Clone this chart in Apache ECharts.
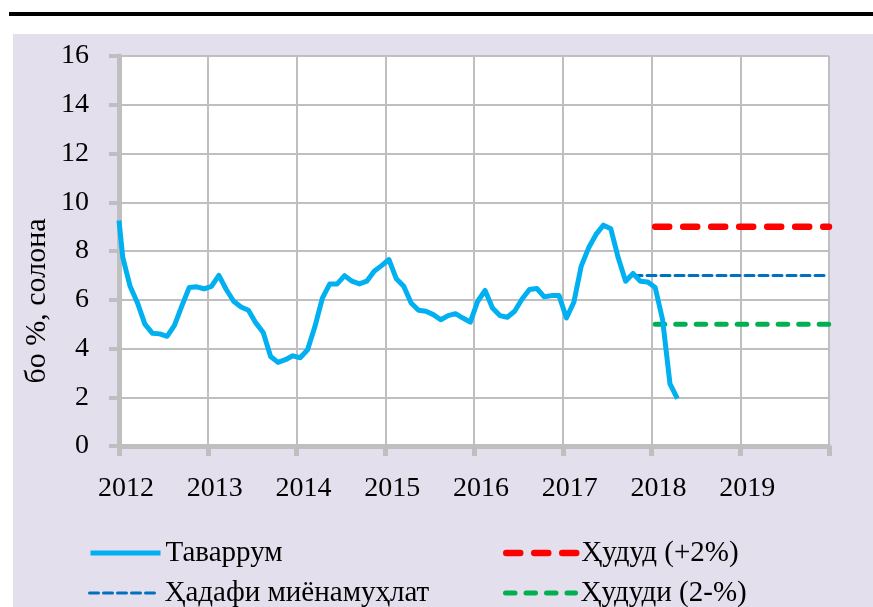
<!DOCTYPE html>
<html>
<head>
<meta charset="utf-8">
<script src="https://cdn.jsdelivr.net/npm/echarts@6.0.0/dist/echarts.min.js"></script>
<style>
html, body { margin: 0; padding: 0; background: #fff; }
#chart { width: 873px; height: 607px; }
</style>
</head>
<body>
<div id="chart"></div>
<script>
// monthly inflation, % y/y, Jan 2012 .. Apr 2018
const firstMonth = [2012, 1];
// the line enters the plot at this value on the left edge (start of 2012)
const edgeValue = 9.25;
const inflation = [
	7.75, 6.55, 5.87, 5.0, 4.63, 4.6, 4.5, 4.95, 5.75, 6.5, 6.53, 6.45,
	6.55, 7.0, 6.42, 5.94, 5.7, 5.57, 5.05, 4.66, 3.67, 3.43, 3.54, 3.7,
	3.62, 3.95, 4.91, 6.07, 6.65, 6.65, 6.99, 6.76, 6.65, 6.76, 7.17, 7.4,
	7.65, 6.86, 6.55, 5.87, 5.57, 5.53, 5.39, 5.18, 5.35, 5.43, 5.25, 5.08,
	5.94, 6.38, 5.66, 5.35, 5.28, 5.53, 6.03, 6.42, 6.46, 6.12, 6.17, 6.17,
	5.25, 5.9, 7.38, 8.13, 8.68, 9.06, 8.91, 7.72, 6.76, 7.08, 6.76, 6.73,
	6.5, 5.18, 2.55, 1.94
];
const yearTicks = [2012, 2013, 2014, 2015, 2016, 2017, 2018, 2019, 2020];
const targetStart = [2017, 10];
const bandStart = [2018, 1];
const targetValue = 7;
const upperBand = 9;
const lowerBand = 5;
const names = ['Таваррум', 'Ҳадафи миёнамуҳлат', 'Ҳудуд (+2%)', 'Ҳудуди (2-%)'];

const FONT = "'Liberation Serif', 'Times New Roman', serif";
const GRID_GREY = '#bfbfbf';

// points sit in the middle of their month
function monthX(year, month) {
	return year + (month - 0.5) / 12;
}

let axisStart = yearTicks[0];
let axisEnd = yearTicks[yearTicks.length - 1];
let inflationData = [[axisStart, edgeValue]].concat(inflation.map((v, i) => {
	let m = firstMonth[1] - 1 + i;
	return [monthX(firstMonth[0] + Math.floor(m / 12), (m % 12) + 1), v];
}));
let targetData = [[monthX(targetStart[0], targetStart[1]), targetValue], [axisEnd, targetValue]];
let upperData = [[monthX(bandStart[0], bandStart[1]), upperBand], [axisEnd, upperBand]];
let lowerData = [[monthX(bandStart[0], bandStart[1]), lowerBand], [axisEnd, lowerBand]];

let chart = echarts.init(document.getElementById('chart'));

// one legend per entry so the 2x2 layout is exact; the line sample keeps the series width/dash
function legendAt(name, left, top) {
	return {
		data: [{ name: name, icon: 'inherit' }],
		orient: 'horizontal',
		left: left,
		top: top,
		padding: 0,
		itemWidth: 70,
		itemHeight: 14,
		itemStyle: { opacity: 0 },
		lineStyle: { width: 'inherit', type: 'inherit', cap: 'inherit' },
		textStyle: {
			fontFamily: FONT,
			fontSize: 29,
			lineHeight: 30,
			color: '#000'
		}
	};
}

let option = {
	animation: false,
	backgroundColor: '#fff',
	graphic: [
		{ type: 'rect', shape: { x: 9, y: 12, width: 864, height: 4 }, style: { fill: '#000' }, z: -10 },
		{ type: 'rect', shape: { x: 13, y: 34, width: 860, height: 573 }, style: { fill: '#e4dfec' }, z: -10 },
		{
			type: 'text',
			x: 37,
			y: 301,
			rotation: Math.PI / 2,
			style: {
				text: 'бо %, солона',
				fontFamily: FONT,
				fontSize: 30,
				fill: '#000',
				align: 'center',
				verticalAlign: 'middle'
			}
		}
	],
	grid: {
		left: 119,
		right: 44,
		top: 56,
		bottom: 161,
		show: true,
		backgroundColor: '#fff',
		borderWidth: 0
	},
	legend: [
		legendAt(names[0], 88, 538),
		legendAt(names[1], 88, 578),
		legendAt(names[2], 503, 538),
		legendAt(names[3], 503, 578)
	],
	xAxis: {
		type: 'value',
		min: axisStart,
		max: axisEnd,
		interval: 1,
		axisLine: { show: true, onZero: false, lineStyle: { color: GRID_GREY, width: 5 } },
		axisTick: { show: true, length: 10, lineStyle: { color: GRID_GREY, width: 5 } },
		splitLine: { show: true, lineStyle: { color: GRID_GREY, width: 2 } },
		axisLabel: {
			margin: 29,
			padding: [0, 0, 0, 14],
			fontFamily: FONT,
			fontSize: 28,
			color: '#000',
			formatter: v => (yearTicks.indexOf(v) >= 0 && v < axisEnd ? String(v) : '')
		}
	},
	yAxis: {
		type: 'value',
		min: 0,
		max: 16,
		interval: 2,
		axisLine: { show: true, lineStyle: { color: GRID_GREY, width: 5 } },
		axisTick: { show: true, length: 10, lineStyle: { color: GRID_GREY, width: 4 } },
		splitLine: { show: true, lineStyle: { color: GRID_GREY, width: 2 } },
		axisLabel: {
			margin: 30,
			fontFamily: FONT,
			fontSize: 28,
			color: '#000'
		}
	},
	series: [
		{
			name: names[0],
			type: 'line',
			data: inflationData,
			showSymbol: false,
			symbol: 'none',
			color: '#00b0f0',
			lineStyle: { color: '#00b0f0', width: 5, join: 'round' },
			z: 5
		},
		{
			name: names[1],
			type: 'line',
			data: targetData,
			symbol: 'none',
			color: '#0070c0',
			lineStyle: { color: '#0070c0', width: 3, type: [9, 5], cap: 'round' },
			z: 4
		},
		{
			name: names[2],
			type: 'line',
			data: upperData,
			symbol: 'none',
			color: '#ff0000',
			lineStyle: { color: '#ff0000', width: 6.5, type: [14, 14], cap: 'round' },
			z: 4
		},
		{
			name: names[3],
			type: 'line',
			data: lowerData,
			symbol: 'none',
			color: '#00b050',
			lineStyle: { color: '#00b050', width: 5, type: [9.5, 11], cap: 'round' },
			z: 4
		}
	]
};

chart.setOption(option);
</script>
</body>
</html>
